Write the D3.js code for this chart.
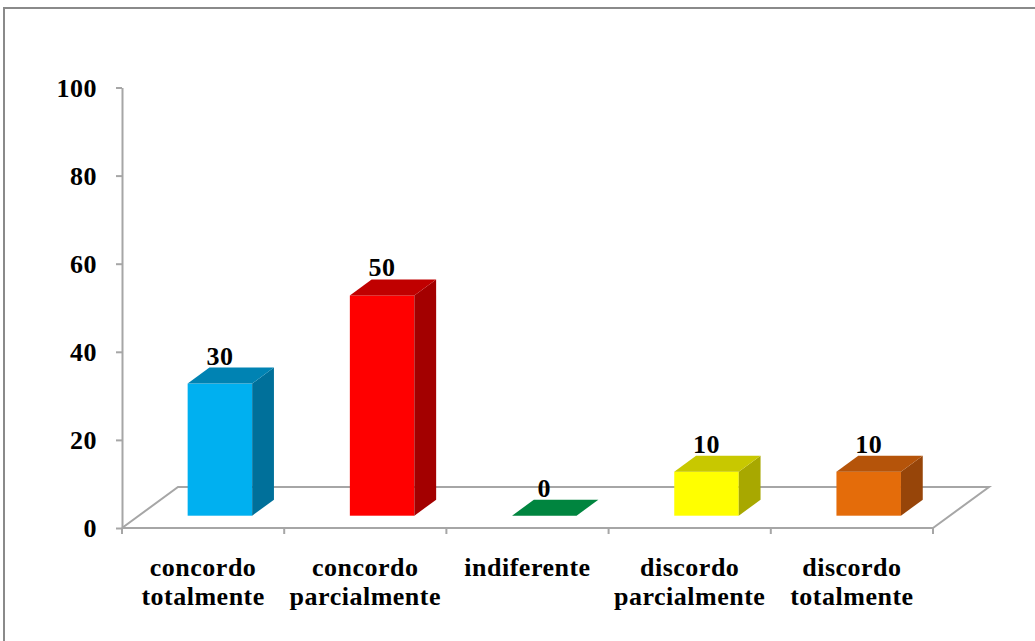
<!DOCTYPE html>
<html>
<head>
<meta charset="utf-8">
<script src="https://cdn.jsdelivr.net/npm/d3@7"></script>
<style>
  html, body { margin: 0; padding: 0; background: #ffffff; }
  svg { display: block; }
  text { font-family: "Liberation Serif", "Times New Roman", serif; font-weight: bold; fill: #000; }
</style>
</head>
<body>
<script>
// ---- data ----
const categories = ["concordo totalmente", "concordo parcialmente", "indiferente", "discordo parcialmente", "discordo totalmente"];
const values = [30, 50, 0, 10, 10];
const yTicks = [0, 20, 40, 60, 80, 100];

// ---- colours (front, top, side) ----
const frontColors = ["#00B0F0", "#FF0000", "#00853F", "#FFFF00", "#E46C0A"];
const topColors   = ["#0083B3", "#C00000", "#00853F", "#C8C800", "#B5540A"];
const sideColors  = ["#00709A", "#A30000", "#00853F", "#A8A800", "#974509"];

const W = 1035, H = 641;
const FS = 26, LS = 0.5;
const svg = d3.select("body").append("svg").attr("width", W).attr("height", H);

// outer frame (cropped on right and bottom)
svg.append("rect").attr("x", 4).attr("y", 8).attr("width", 1200).attr("height", 800)
  .attr("fill", "none").attr("stroke", "#8a8a8a").attr("stroke-width", 2);

const x = d3.scaleBand().domain(categories).range([122, 933]).paddingInner(0).paddingOuter(0);
const y = d3.scaleLinear().domain([0, 100]).range([528, 87.5]);

// depth of the floor
const FDX = 56, FDY = -41;
// bar placement in depth
const BOFFX = 16.8, BOFFY = -12.3;   // front face offset
const BDX = 21.8, BDY = -16;         // bar depth
const BW = 64.5;

const gridColor = "#a6a6a6";

// floor
const y0 = y(0), xL = x.range()[0], xR = x.range()[1];
svg.append("path")
  .attr("d", `M${xL},${y0} L${xL + FDX},${y0 + FDY} L${xR + FDX},${y0 + FDY} L${xR},${y0}`)
  .attr("fill", "none").attr("stroke", gridColor).attr("stroke-width", 2);

// y axis
const yAxis = d3.axisLeft(y).tickValues(yTicks).tickSize(6).tickSizeOuter(0).tickPadding(19).tickFormat(d3.format("d"));
const gy = svg.append("g").attr("transform", `translate(${xL},0)`).call(yAxis);
gy.select(".domain").attr("stroke", gridColor).attr("stroke-width", 2);
gy.selectAll(".tick line").attr("stroke", gridColor).attr("stroke-width", 2);
gy.selectAll(".tick text").attr("font-family", "Liberation Serif, Times New Roman, serif")
  .attr("font-weight", "bold").attr("font-size", FS).attr("letter-spacing", LS).attr("fill", "#000")
  .attr("dy", "0.34em");

// x axis line and ticks at category boundaries
svg.append("line").attr("x1", xL).attr("x2", xR).attr("y1", y0).attr("y2", y0)
  .attr("stroke", gridColor).attr("stroke-width", 2);
const bounds = categories.map(c => x(c)).concat([xR]);
svg.selectAll(".xtick").data(bounds).enter().append("line")
  .attr("class", "xtick")
  .attr("x1", d => d).attr("x2", d => d).attr("y1", y0).attr("y2", y0 + 6)
  .attr("stroke", gridColor).attr("stroke-width", 2);

// category labels
const catG = svg.selectAll(".cat").data(categories).enter().append("text")
  .attr("class", "cat")
  .attr("text-anchor", "middle")
  .attr("font-size", FS).attr("letter-spacing", LS);
catG.each(function (d) {
  const words = d.split(" ");
  const cx = x(d) + x.bandwidth() / 2;
  const t = d3.select(this);
  words.forEach((w, i) => {
    t.append("tspan").attr("x", cx).attr("y", 576 + i * 28.5).text(w);
  });
});

// bars
const bars = svg.selectAll(".bar").data(categories.map((c, i) => ({ c, v: values[i], i })))
  .enter().append("g").attr("class", "bar");
bars.each(function (d) {
  const g = d3.select(this);
  const cx = x(d.c) + x.bandwidth() / 2;
  const x0 = cx + BOFFX - BW / 2, x1 = x0 + BW;
  const yb = y(0) + BOFFY, yt = y(d.v) + BOFFY;
  if (d.v > 0) {
    g.append("rect").attr("x", x0).attr("y", yt).attr("width", BW).attr("height", yb - yt)
      .attr("fill", frontColors[d.i]);
    g.append("path")
      .attr("d", `M${x1},${yt} L${x1 + BDX},${yt + BDY} L${x1 + BDX},${yb + BDY} L${x1},${yb} Z`)
      .attr("fill", sideColors[d.i]);
  }
  g.append("path")
    .attr("d", `M${x0},${yt} L${x0 + BDX},${yt + BDY} L${x1 + BDX},${yt + BDY} L${x1},${yt} Z`)
    .attr("fill", topColors[d.i]);
  g.append("text").attr("x", cx + BOFFX).attr("y", yt - 19)
    .attr("text-anchor", "middle").attr("font-size", FS).attr("letter-spacing", LS)
    .text(d.v);
});
</script>
</body>
</html>
